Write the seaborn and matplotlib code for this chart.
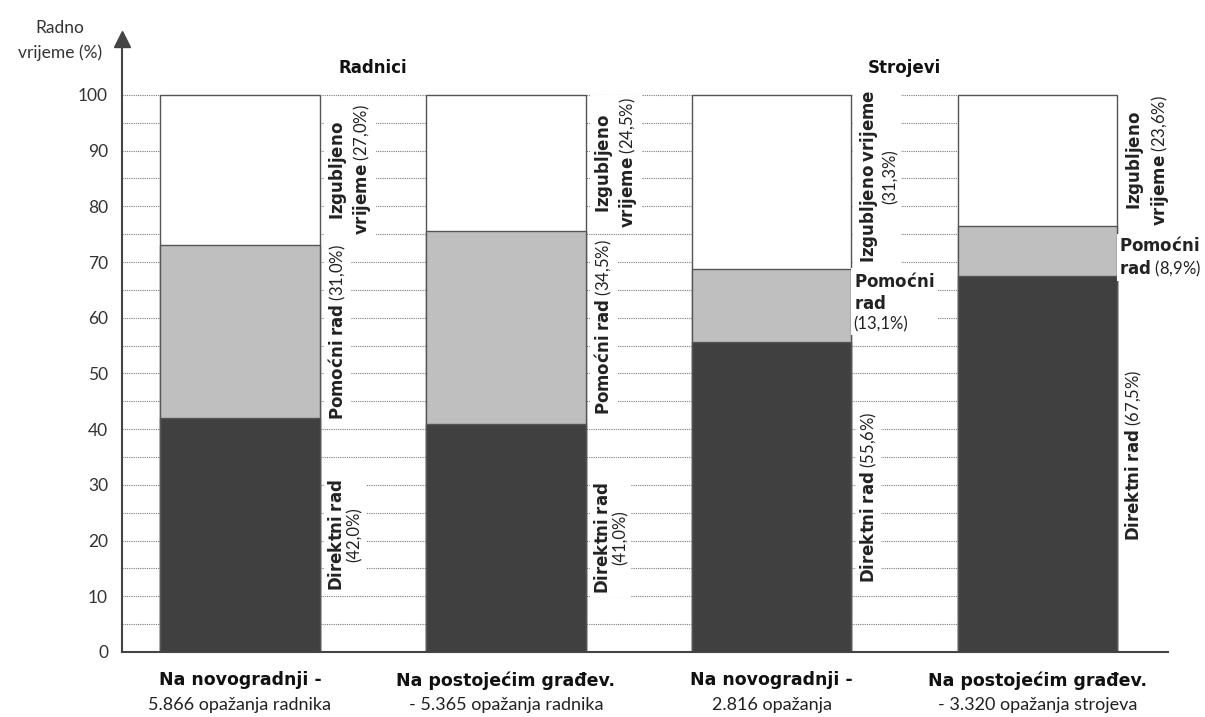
import numpy as np
import seaborn as sns
import matplotlib.pyplot as plt

# Data
categories = ["Radnici - novogradnja", "Radnici - postojeće",
              "Strojevi - novogradnja", "Strojevi - postojeće"]
label_top = ["Na novogradnji -", "Na postojećim građev.",
             "Na novogradnji -", "Na postojećim građev."]
label_bottom = ["5.866 opažanja radnika", "- 5.365 opažanja radnika",
                "2.816 opažanja", "- 3.320 opažanja strojeva"]
group_names = ["Radnici", "Strojevi"]
direct_work = [42.0, 41.0, 55.6, 67.5]
aux_work = [31.0, 34.5, 13.1, 8.9]
lost_time = [27.0, 24.5, 31.3, 23.6]

sns.set_style("white")
plt.rcParams['font.family'] = ['Lato', 'DejaVu Sans']
plt.rcParams['mathtext.fontset'] = 'custom'
plt.rcParams['mathtext.bf'] = 'DejaVu Sans:bold'
plt.rcParams['mathtext.rm'] = 'Lato'
plt.rcParams['mathtext.it'] = 'Lato:italic'

bold_font = 'DejaVu Sans'
dark = '#404040'
light = '#bfbfbf'
edge = '#555555'
axis_col = '#444444'
width = 0.6

direct = np.array(direct_work)
aux_top = direct + np.array(aux_work)
total = aux_top + np.array(lost_time)

fig = plt.figure(figsize=(12.05, 7.17), dpi=100)
ax = fig.add_axes([0.1012, 0.0907, 0.868, 0.8546])

# stacked bars: draw totals first, then overlay lower parts
sns.barplot(x=categories, y=total, color='white', edgecolor=edge, linewidth=1,
            width=width, saturation=1, ax=ax, zorder=2)
sns.barplot(x=categories, y=aux_top, color=light, edgecolor=edge, linewidth=1,
            width=width, saturation=1, ax=ax, zorder=2)
sns.barplot(x=categories, y=direct, color=dark, edgecolor=edge, linewidth=1,
            width=width, saturation=1, ax=ax, zorder=2)

ax.set_xlim(-0.444, 3.49)
ax.set_ylim(0, 110)

# dotted helper lines in the gaps
grid_y = np.arange(5, 101, 5)
ax.hlines(grid_y, -0.444, len(categories) - 1 + width / 2, colors='#7a7a7a',
          linestyles=(0, (1, 1)), linewidth=0.8, zorder=0.5)

# axes styling
for s in ['top', 'right']:
    ax.spines[s].set_visible(False)
for s in ['left', 'bottom']:
    ax.spines[s].set_color(axis_col)
    ax.spines[s].set_linewidth(1.5)
ax.set_yticks(np.arange(0, 101, 10))
ax.tick_params(axis='y', direction='out', length=7, width=1.3, color=axis_col,
               labelsize=12.5, labelcolor='#333333', pad=3)
ax.set_xticks([])
ax.set_xlabel('')
ax.set_ylabel('')
ax.plot([0], [1], marker='^', markersize=11, color=axis_col,
        transform=ax.transAxes, clip_on=False)

fig.text(0.05, 0.944, "Radno\nvrijeme (%)", ha='center', va='center',
         fontsize=12.5, color='#333333', linespacing=1.6)

# group titles
for gi, name in enumerate(group_names):
    ax.text(gi * 2 + 0.5, 104.8, name, ha='center', va='center',
            fontsize=12, fontweight='bold', family=bold_font, color='#111111')

# category labels under the axis
for i in range(len(categories)):
    ax.annotate(label_top[i], xy=(i, 0), xycoords=('data', 'axes fraction'),
                xytext=(0, -20.5), textcoords='offset points', ha='center',
                va='center', fontsize=12.5, fontweight='bold', family=bold_font,
                color='#111111')
    ax.annotate(label_bottom[i], xy=(i, 0), xycoords=('data', 'axes fraction'),
                xytext=(0, -38), textcoords='offset points', ha='center',
                va='center', fontsize=13, color='#222222')


def pct(v):
    return "(" + f"{v:.1f}".replace('.', ',') + "%)"


box = dict(facecolor='white', edgecolor='none', pad=2)
fs = 12

for i in range(len(categories)):
    x_edge = i + width / 2
    lost_mid = (aux_top[i] + total[i]) / 2
    aux_mid = (direct[i] + aux_top[i]) / 2
    dir_mid = direct[i] / 2
    if i < 2:
        lost_txt = "$\\mathbf{Izgubljeno}$\n$\\mathbf{vrijeme}$ " + pct(lost_time[i])
        aux_txt = "$\\mathbf{Pomoćni\\ rad}$ " + pct(aux_work[i])
        dir_txt = "$\\mathbf{Direktni\\ rad}$\n" + pct(direct_work[i])
        items = [(lost_txt, lost_mid, 90, 'center'), (aux_txt, aux_mid, 90, 'center'),
                 (dir_txt, dir_mid, 90, 'center')]
    elif i == 2:
        lost_txt = "$\\mathbf{Izgubljeno\\ vrijeme}$\n" + pct(lost_time[i])
        aux_txt = "$\\mathbf{Pomoćni}$\n$\\mathbf{rad}$\n" + pct(aux_work[i])
        dir_txt = "$\\mathbf{Direktni\\ rad}$ " + pct(direct_work[i])
        items = [(lost_txt, lost_mid + 1, 90, 'center'), (aux_txt, aux_top[i] - 0.3, 0, 'top'),
                 (dir_txt, dir_mid, 90, 'center')]
    else:
        lost_txt = "$\\mathbf{Izgubljeno}$\n$\\mathbf{vrijeme}$ " + pct(lost_time[i])
        aux_txt = "$\\mathbf{Pomoćni}$\n$\\mathbf{rad}$ " + pct(aux_work[i])
        dir_txt = "$\\mathbf{Direktni\\ rad}$ " + pct(direct_work[i])
        items = [(lost_txt, lost_mid, 90, 'center'), (aux_txt, aux_mid - 1, 0, 'center'),
                 (dir_txt, dir_mid + 1.5, 90, 'center')]
    for txt, yv, rot, va in items:
        off = 5 if rot == 90 else 1.5
        ax.annotate(txt, xy=(x_edge, yv), xytext=(off, 0), textcoords='offset points',
                    rotation=rot, ha='left', va=va, fontsize=fs, color='#222222',
                    multialignment='center' if rot == 90 else 'left',
                    linespacing=1.15 if rot == 90 else 1.3,
                    bbox=box, zorder=3, annotation_clip=False)

fig.savefig("out.png", dpi=100)
